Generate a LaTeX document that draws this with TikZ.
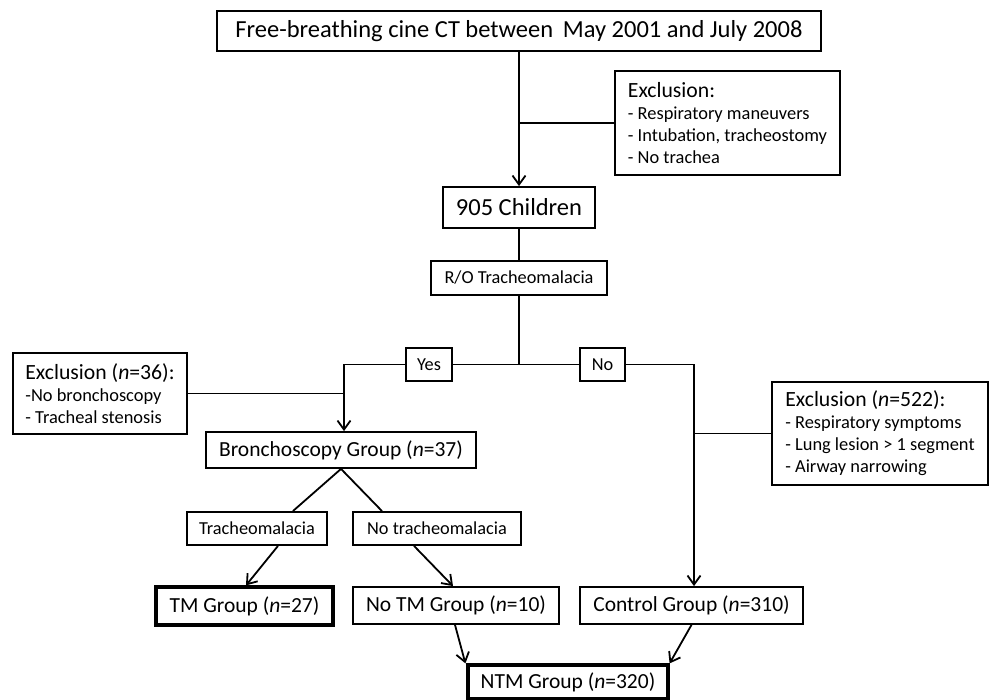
\documentclass[tikz,border=0pt]{standalone}
\usepackage{fontspec}
\setmainfont{Carlito}
\usetikzlibrary{arrows.meta}
\begin{document}
\begin{tikzpicture}[x=1pt,y=-1pt,
  box/.style={draw, line width=1.8pt, inner sep=0pt, align=center},
  thickbox/.style={box, line width=3.2pt},
  listbox/.style={box, align=left, font=\fontsize{18.4}{22}\selectfont},
  big/.style={font=\fontsize{24.5}{28}\selectfont},
  grp/.style={font=\fontsize{21.5}{25}\selectfont},
  lab/.style={font=\fontsize{18.3}{22}\selectfont},
  conn/.style={line width=1.8pt},
  arr/.style={conn, -{Straight Barb[length=9pt,width=13pt,line width=1.8pt]}}]
\useasboundingbox (0,0) rectangle (989,700);
\newcommand{\hdr}[1]{{\fontsize{21.7}{24}\selectfont #1}}

\node[box, big, minimum width=604pt, minimum height=40pt] (top) at (519,31) {Free-breathing cine CT between\ \,May 2001 and July 2008};
\node[listbox, minimum width=225pt, minimum height=104pt] (ex1) at (727.5,123)
  {\hdr{Exclusion:}\\- Respiratory maneuvers\\- Intubation, tracheostomy\\- No trachea};
\node[box, big, minimum width=152pt, minimum height=41pt] (ch) at (519,207.5) {905 Children};
\node[box, lab, minimum width=176pt, minimum height=34pt] (ro) at (519,278) {R/O Tracheomalacia};
\coordinate (j) at (519,364.5);
\node[box, lab, minimum width=46pt, minimum height=33pt] (yes) at (429,364.5) {Yes};
\node[box, lab, minimum width=45pt, minimum height=33pt] (no) at (602.5,364.5) {No};
\coordinate (yl) at (344,364.5);
\coordinate (nr) at (694,364.5);
\node[listbox, minimum width=174pt, minimum height=81pt] (ex2) at (100,393.5)
  {\hdr{Exclusion (\textit{n}=36):}\\-No bronchoscopy\\- Tracheal stenosis};
\node[box, grp, minimum width=270pt, minimum height=36pt] (br) at (341,450) {Bronchoscopy Group (\textit{n}=37)};
\node[listbox, minimum width=216pt, minimum height=103pt] (ex3) at (880,433.5)
  {\hdr{Exclusion (\textit{n}=522):}\\- Respiratory symptoms\\- Lung lesion > 1 segment\\- Airway narrowing};
\node[box, lab, minimum width=140pt, minimum height=33pt] (tm) at (257,528.5) {Tracheomalacia};
\node[box, lab, minimum width=168pt, minimum height=33pt] (ntml) at (437,528.5) {No tracheomalacia};
\node[thickbox, grp, minimum width=177pt, minimum height=38pt] (tmg) at (244.5,606) {TM Group (\textit{n}=27)};
\node[box, grp, minimum width=206pt, minimum height=37pt] (notmg) at (456,605.5) {No TM Group (\textit{n}=10)};
\node[box, grp, minimum width=223pt, minimum height=37pt] (ctrl) at (691.5,605.5) {Control Group (\textit{n}=310)};
\node[thickbox, grp, minimum width=200pt, minimum height=34pt] (ntm) at (568,682) {NTM Group (\textit{n}=320)};

\draw[arr] (top.south) -- (ch.north);
\draw[conn] (top.south |- ex1.west) -- (ex1.west);
\draw[conn] (ch.south) -- (ro.north);
\draw[conn] (ro.south) -- (j);
\draw[conn] (j) -- (yes.east);
\draw[conn] (j) -- (no.west);
\draw[arr] (yes.west) -- (yl) -- (yl |- br.north);
\draw[conn] (ex2.east) -- (yl |- ex2.east);
\draw[arr] (no.east) -- (nr) -- (nr |- ctrl.north);
\draw[conn] (ex3.west) -- (nr |- ex3.west);
\draw[conn] ([xshift=-35pt]tm.north east) -- (br.south) -- ([xshift=-55pt]ntml.north);
\draw[arr] ([xshift=21pt]tm.south) -- ([xshift=1.5pt]tmg.north);
\draw[arr] ([xshift=-23pt]ntml.south) -- ([xshift=-3pt]notmg.north);
\draw[arr] ([xshift=-1pt]notmg.south) -- ([xshift=-1pt]ntm.north west);
\draw[arr] (ctrl.south) -- (ntm.north east);
\end{tikzpicture}
\end{document}
